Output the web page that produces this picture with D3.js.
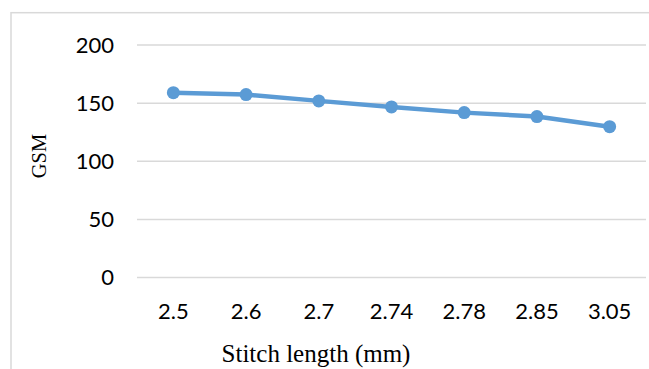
<!DOCTYPE html>
<html>
<head>
<meta charset="utf-8">
<script src="https://cdn.jsdelivr.net/npm/d3@7/dist/d3.min.js"></script>
<style>
  html, body { margin: 0; padding: 0; background: #fff; }
  svg { display: block; }
</style>
</head>
<body>
<svg id="chart" width="649" height="369"></svg>
<script>
const categories = ["2.5", "2.6", "2.7", "2.74", "2.78", "2.85", "3.05"];
const gsmValues = [158.6, 156.9, 151.5, 146.3, 141.4, 138, 129.3];
const yTicks = [0, 50, 100, 150, 200];
const xTitle = "Stitch length (mm)";
const yTitle = "GSM";

const svg = d3.select("#chart");
const W = 649, H = 369;
const plot = { left: 137, right: 646, top: 44.5, bottom: 277 };

// outer frame (cropped at right/bottom)
svg.append("rect")
  .attr("x", 11).attr("y", 12.7)
  .attr("width", W + 10).attr("height", H + 10)
  .attr("fill", "none").attr("stroke", "#d9d9d9").attr("stroke-width", 1.5);

const x = d3.scaleBand().domain(categories).range([plot.left, plot.right]).padding(0);
const y = d3.scaleLinear().domain([0, 200]).range([plot.bottom, plot.top]);

// gridlines
const yAxis = d3.axisLeft(y).tickValues(yTicks).tickSize(-(plot.right - plot.left)).tickPadding(23);
const gy = svg.append("g").attr("transform", `translate(${plot.left},0)`).call(yAxis);
gy.select(".domain").remove();
gy.selectAll(".tick line").attr("stroke", "#d9d9d9").attr("stroke-width", 1.5);
gy.selectAll(".tick text")
  .attr("font-family", "Lato, 'Open Sans', sans-serif")
  .attr("font-size", 22).attr("fill", "#000").attr("dy", "0.36em");

// x axis labels
const xAxis = d3.axisBottom(x).tickSize(0).tickPadding(0);
const gx = svg.append("g").attr("transform", `translate(0,${plot.bottom})`).call(xAxis);
gx.select(".domain").remove();
gx.selectAll(".tick text")
  .attr("font-family", "Lato, 'Open Sans', sans-serif")
  .attr("font-size", 22).attr("fill", "#000")
  .attr("y", 34).attr("dy", "0.36em");

// line
const cx = d => x(d) + x.bandwidth() / 2;
const data = categories.map((c, i) => ({ c, v: gsmValues[i] }));
svg.append("path")
  .datum(data)
  .attr("fill", "none")
  .attr("stroke", "#5b9bd5")
  .attr("stroke-width", 4.5)
  .attr("stroke-linejoin", "round")
  .attr("d", d3.line().x(d => cx(d.c)).y(d => y(d.v)));

svg.selectAll("circle.pt").data(data).enter().append("circle")
  .attr("class", "pt")
  .attr("cx", d => cx(d.c)).attr("cy", d => y(d.v))
  .attr("r", 6.5).attr("fill", "#5b9bd5");

// axis titles
svg.append("text")
  .attr("x", 316).attr("y", 361.5)
  .attr("text-anchor", "middle")
  .attr("font-family", "'Liberation Serif', 'Times New Roman', serif")
  .attr("font-size", 25).attr("fill", "#000")
  .text(xTitle);

svg.append("text")
  .attr("transform", "translate(45.5,156) rotate(-90)")
  .attr("text-anchor", "middle")
  .attr("font-family", "'Liberation Serif', 'Times New Roman', serif")
  .attr("font-size", 20.5).attr("fill", "#000")
  .text(yTitle);
</script>
</body>
</html>
